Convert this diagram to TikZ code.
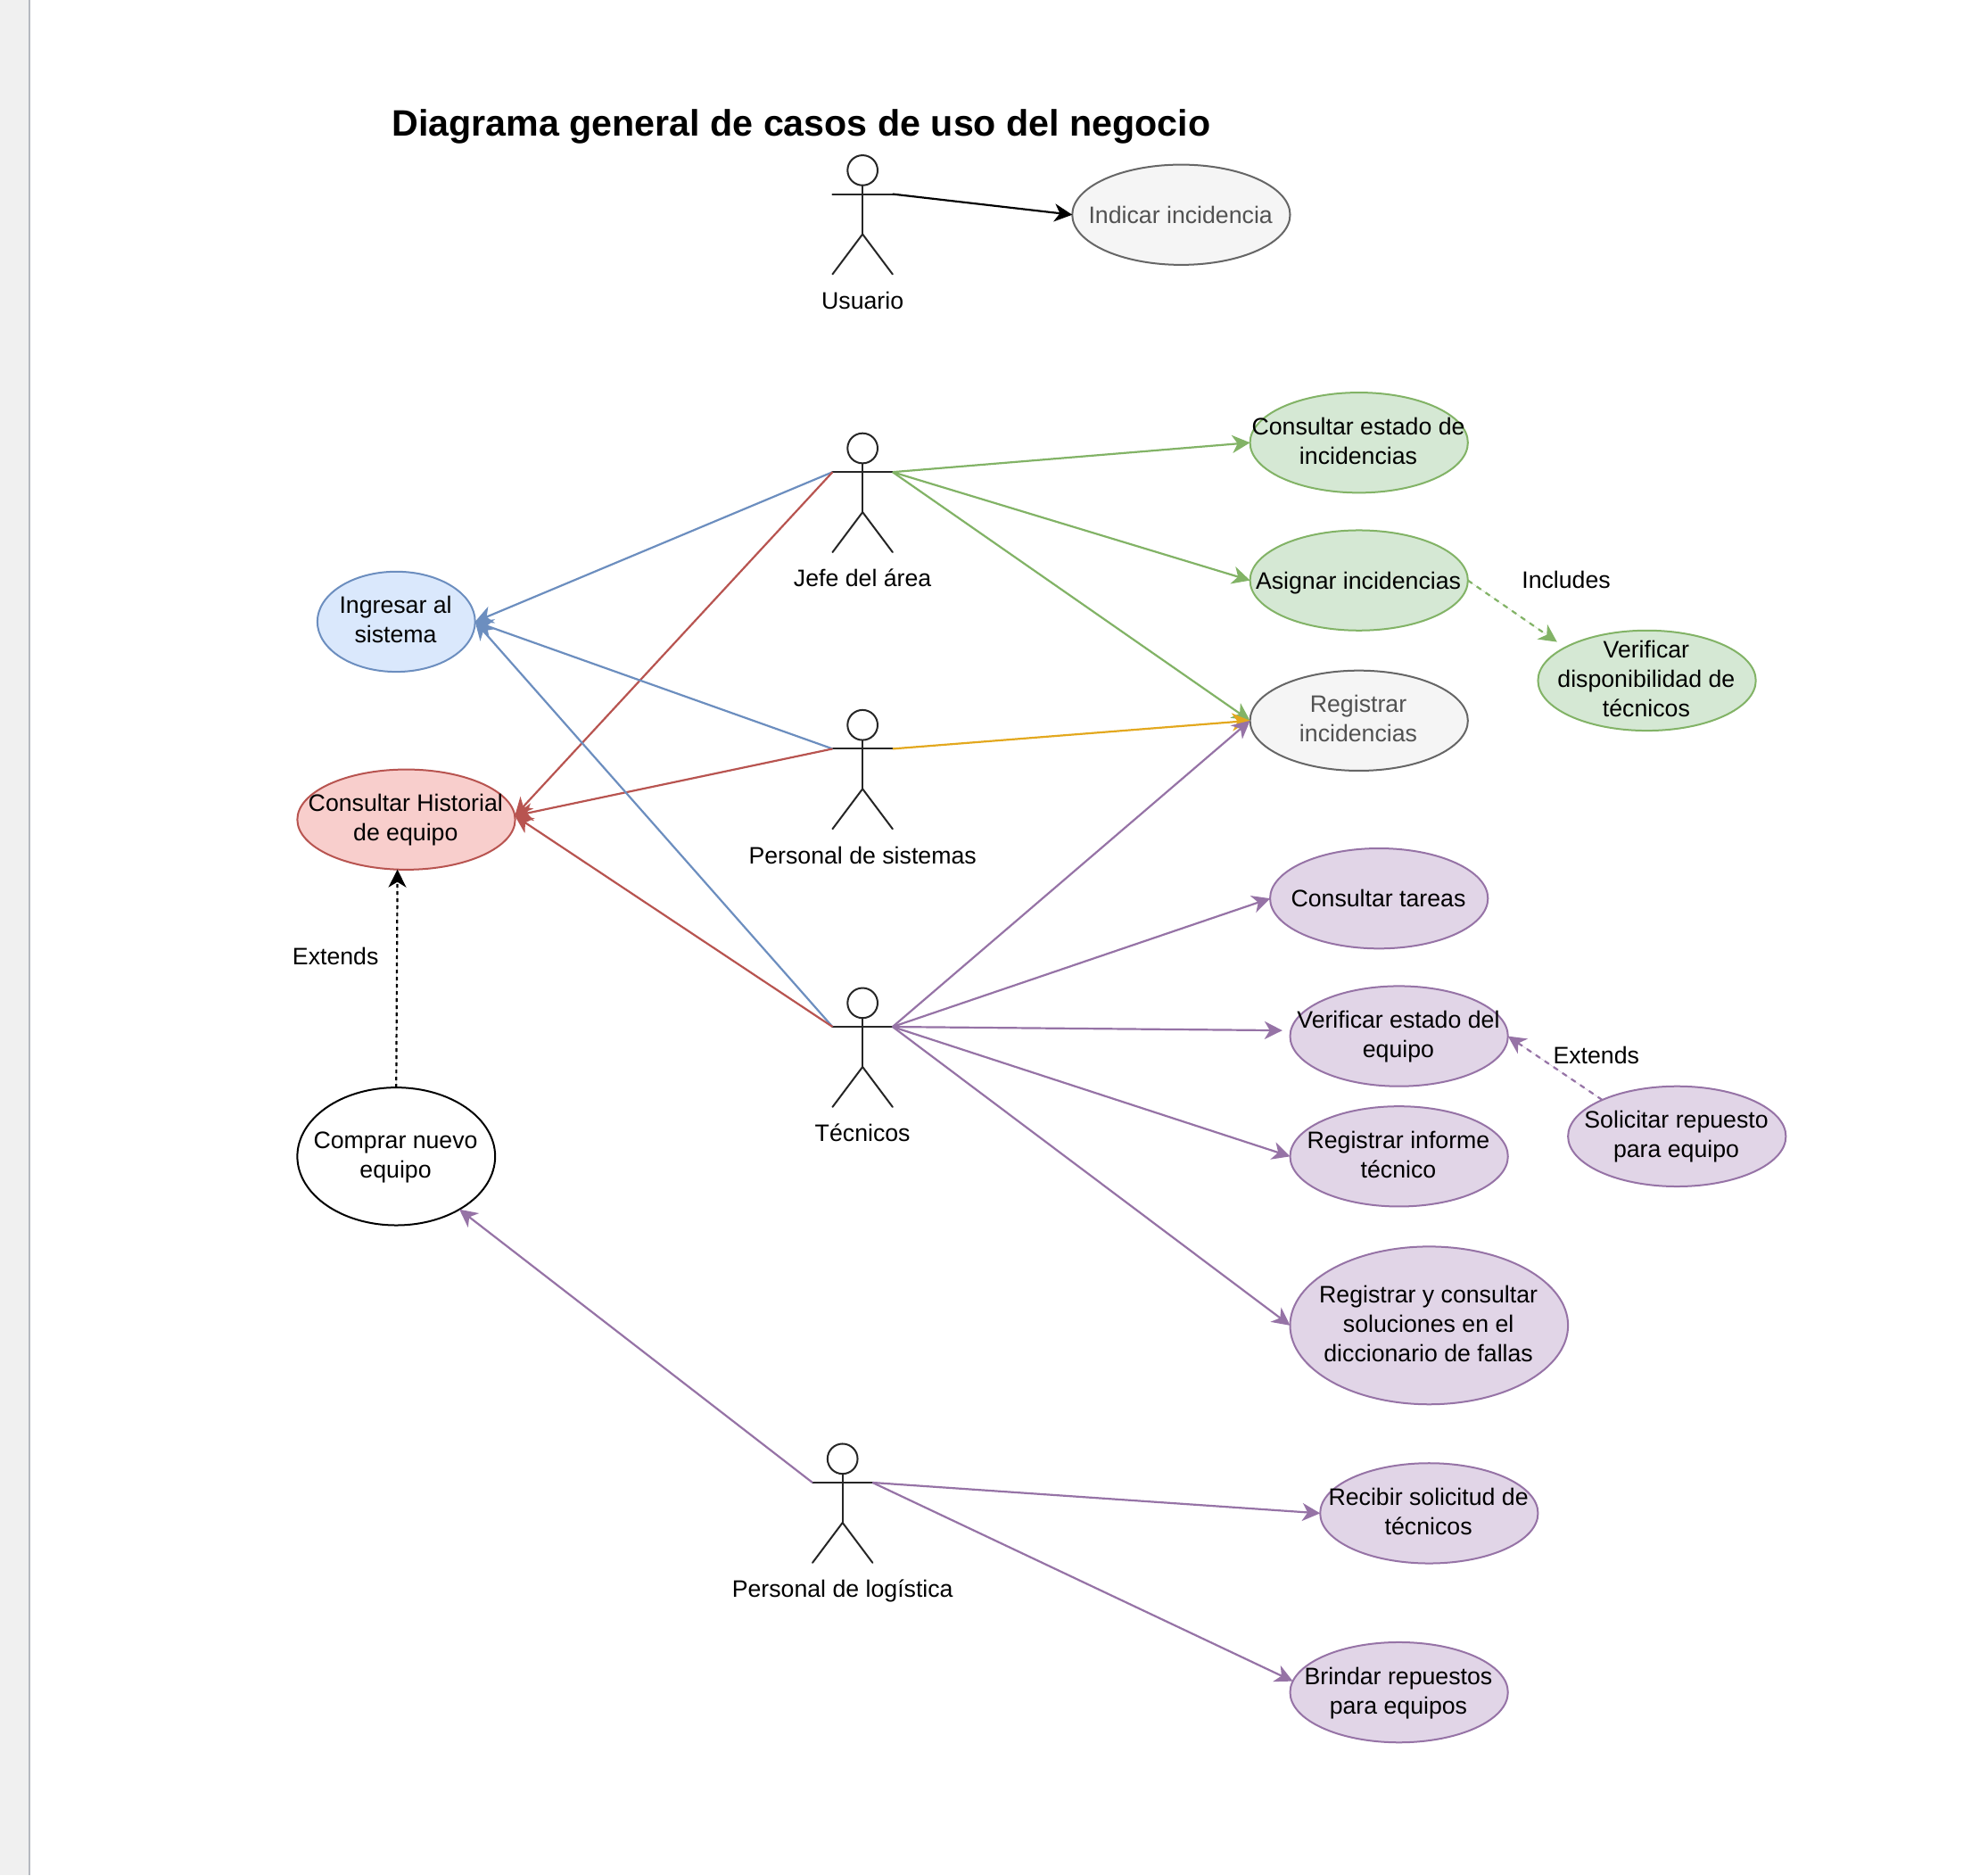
\documentclass[tikz,border=0pt]{standalone}
\usepackage{fontspec}
\setmainfont{Liberation Sans}
\usetikzlibrary{shapes.geometric,arrows.meta}
\definecolor{cgreenD}{HTML}{82B366}\definecolor{cgreenL}{HTML}{D5E8D4}
\definecolor{cblueD}{HTML}{6C8EBF}\definecolor{cblueL}{HTML}{DAE8FC}
\definecolor{credD}{HTML}{B85450}\definecolor{credL}{HTML}{F8CECC}
\definecolor{cpurD}{HTML}{9673A6}\definecolor{cpurL}{HTML}{E1D5E7}
\definecolor{cgrayD}{HTML}{666666}\definecolor{cgrayL}{HTML}{F5F5F5}
\definecolor{corange}{HTML}{E3A81E}
\tikzset{
  x=1.40370pt,y=-1.40370pt,
  every node/.style={inner sep=0pt,outer sep=0pt},
  ucase/.style={ellipse,draw,line width=2pt},
  uctext/.style={font=\fontsize{26.7}{33}\selectfont,align=center,text=black,
    execute at begin node=\strut,execute at end node=\strut},
  greenuc/.style={fill=cgreenL,draw=cgreenD},
  blueuc/.style={fill=cblueL,draw=cblueD},
  reduc/.style={fill=credL,draw=credD},
  puruc/.style={fill=cpurL,draw=cpurD},
  grayuc/.style={fill=cgrayL,draw=cgrayD},
  plainuc/.style={fill=white,draw=black},
  conn/.style={line width=2.2pt,-{Stealth[length=20pt,width=20pt,inset=6pt]}},
  dashconn/.style={conn,dash pattern=on 6pt off 6pt},
  stick/.style={line width=2pt,draw=black!85,line cap=round},
  alabel/.style={font=\fontsize{26.7}{33}\selectfont,text=black,
    execute at begin node=\strut}
}
\newcommand{\usecase}[7]{%
  \node[ucase,#6,minimum width=#4*2.8074pt,minimum height=#5*2.8074pt] (#1) at (#2+0.5,#3+0.5) {};
  \node[uctext] (#1-t) at (#2,#3+2.5) {#7};
}
\newcommand{\stickman}[4]{%
  \node[circle,stick,minimum size=33.7pt] (#1-head) at (#2,#3) {};
  \coordinate (#1-L) at (#2-24,#3+19);
  \coordinate (#1-R) at (#2+24,#3+19);
  \coordinate (#1-hip) at (#2,#3+51);
  \coordinate (#1-lf) at (#2-24,#3+83);
  \coordinate (#1-rf) at (#2+24,#3+83);
  \draw[stick] (#1-head.south) -- (#1-hip);
  \draw[stick] (#1-L) -- (#1-R);
  \draw[stick] (#1-lf) -- (#1-hip) -- (#1-rf);
  \node[alabel] (#1-lab) at (#2,#3+106) {#4};
}
\begin{document}
\begin{tikzpicture}
\useasboundingbox (0,0) rectangle (1568,1497.5);
\fill[white] (0,0) rectangle (1568,1497.5);
\fill[black!6] (0,0) rectangle (23,1497.5);
\fill[black!25!cblueL!60!gray!70] (23,0) rectangle (24.4,1497.5);

\node[font=\fontsize{41.2}{48}\bfseries\selectfont,anchor=base west,text=black] (title) at (313,108.5) {Diagrama general de casos de uso del negocio};

\usecase{indicar}{943}{171}{87}{40}{grayuc}{\color{cgrayD!80!black}Indicar incidencia}
\usecase{consest}{1085}{353}{87}{40}{greenuc}{Consultar estado de\\incidencias}
\usecase{asignar}{1085}{463}{87}{40}{greenuc}{Asignar incidencias}
\usecase{registrar}{1085}{575}{87}{40}{grayuc}{\color{cgrayD!80!black}Registrar\\\color{cgrayD!80!black}incidencias}
\usecase{verdisp}{1315}{543}{87}{40}{greenuc}{Verificar\\disponibilidad de\\técnicos}
\usecase{ingresar}{316}{496}{63}{40}{blueuc}{Ingresar al\\sistema}
\usecase{hist}{324}{654}{87}{40}{reduc}{Consultar Historial\\de equipo}
\usecase{comprar}{316}{923}{79}{55}{plainuc}{Comprar nuevo\\equipo}
\usecase{tareas}{1101}{717}{87}{40}{puruc}{Consultar tareas}
\usecase{verest}{1117}{827}{87}{40}{puruc}{Verificar estado del\\equipo}
\usecase{reginf}{1117}{923}{87}{40}{puruc}{Registrar informe\\técnico}
\usecase{solicitar}{1339}{907}{87}{40}{puruc}{Solicitar repuesto\\para equipo}
\usecase{dicc}{1141}{1058}{111}{63}{puruc}{Registrar y consultar\\soluciones en el\\diccionario de fallas}
\usecase{recibir}{1141}{1208}{87}{40}{puruc}{Recibir solicitud de\\técnicos}
\usecase{brindar}{1117}{1351}{87}{40}{puruc}{Brindar repuestos\\para equipos}

\stickman{usuario}{689}{136}{Usuario}
\stickman{jefe}{689}{358}{Jefe del área}
\stickman{sist}{689}{579}{Personal de sistemas}
\stickman{tec}{689}{801}{Técnicos}
\stickman{log}{673}{1165}{Personal de logística}

\node[alabel] (inc) at (1251,465) {Includes};
\node[alabel] (ext1) at (268,766) {Extends};
\node[alabel] (ext2) at (1275,845) {Extends};

\draw[conn,draw=black,fill=black] (usuario-R) -- (indicar.west);
\foreach \t in {consest.west,asignar.west,registrar.west}
  \draw[conn,draw=cgreenD,fill=cgreenD] (jefe-R) -- (\t);
\draw[conn,draw=corange,fill=corange] (sist-R) -- (registrar.west);
\foreach \s in {jefe-L,sist-L,tec-L}{
  \draw[conn,draw=cblueD,fill=cblueD] (\s) -- (ingresar.east);
  \draw[conn,draw=credD,fill=credD] (\s) -- (hist.2);
}
\foreach \t in {registrar.west,tareas.west,reginf.west,dicc.west}
  \draw[conn,draw=cpurD,fill=cpurD] (tec-R) -- (\t);
\draw[conn,draw=cpurD,fill=cpurD,shorten >=9.5pt] (tec-R) -- (verest.177);
\draw[conn,draw=cpurD,fill=cpurD] (log-L) -- (comprar.-40);
\draw[conn,draw=cpurD,fill=cpurD] (log-R) -- (recibir.west);
\draw[conn,draw=cpurD,fill=cpurD] (log-R) -- (brindar.174);
\draw[conn,dash pattern=on 4pt off 4pt,draw=black,fill=black] (comprar.north) -- (hist.-100);
\draw[dashconn,draw=cgreenD,fill=cgreenD,shorten >=11pt] (asignar.east) -- (verdisp.158);
\draw[dashconn,draw=cpurD,fill=cpurD] (solicitar.154) -- (verest.east);
\end{tikzpicture}
\end{document}
